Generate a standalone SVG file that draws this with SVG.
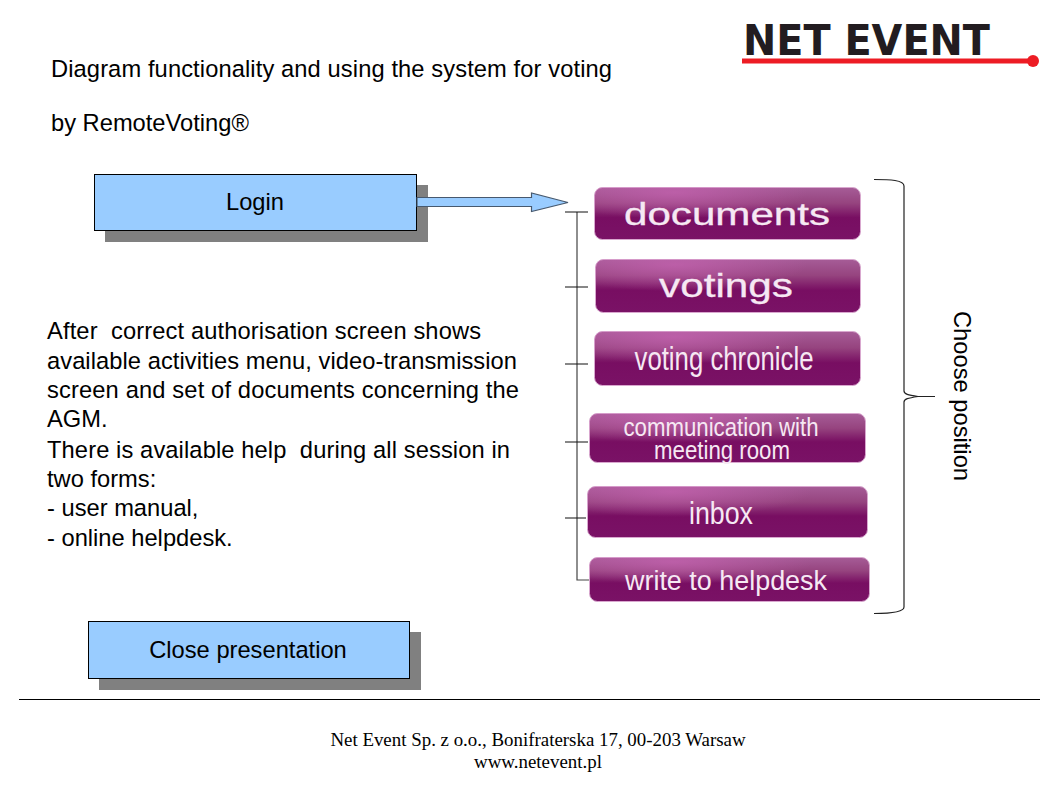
<svg xmlns="http://www.w3.org/2000/svg" width="1058" height="793" viewBox="0 0 1058 793">
<style>
.t{font-family:"Liberation Sans",Arial,sans-serif;font-size:23.7px;fill:#000;white-space:pre}
.c{text-anchor:middle}
.f{font-family:"Liberation Serif","Times New Roman",serif;font-size:18.9px;fill:#000;text-anchor:middle}
.box{fill:#99ccff;stroke:#000;stroke-width:1}
.sh{fill:#808080}
.btn{fill:url(#pg);stroke:#d9a8cf;stroke-width:1}
.gl{fill:url(#hl)}
.bt{font-family:"Liberation Sans",Arial,sans-serif;fill:#f6e8f3;text-anchor:middle}
.hv{stroke:#f6e8f3;stroke-width:0.3}
.ln{fill:none;stroke:#444;stroke-width:1.2}
.tk{fill:none;stroke:#111;stroke-width:1.1}
</style>
<defs>
<linearGradient id="pg" x1="0" y1="0" x2="0" y2="1">
<stop offset="0" stop-color="#a65c97"/>
<stop offset="0.3" stop-color="#96447f"/>
<stop offset="0.58" stop-color="#780e62"/>
<stop offset="1" stop-color="#7a1266"/>
</linearGradient>
<radialGradient id="hl" cx="0.3" cy="0.1" r="0.5">
<stop offset="0" stop-color="#c763b2" stop-opacity="0.7"/>
<stop offset="1" stop-color="#c763b2" stop-opacity="0"/>
</radialGradient>
</defs>
<rect width="1058" height="793" fill="#fff"/>
<g id="logo">
<text x="743" y="55" font-family="DejaVu Sans,sans-serif" font-size="42.500" font-weight="bold" fill="#221c20" textLength="247" lengthAdjust="spacingAndGlyphs">NET EVENT</text>
<rect x="742" y="58.500" width="291" height="5" fill="#ed1c24"/>
<circle cx="1033" cy="61" r="6" fill="#ed1c24"/>
</g>
<g id="title">
<text class="t" x="51" y="77" textLength="561">Diagram functionality and using the system for voting</text>
<text class="t" x="51" y="131">by RemoteVoting®</text>
</g>
<g id="login">
<rect class="sh" x="105" y="185" width="323" height="57"/>
<rect class="box" x="94.500" y="174.500" width="322" height="56"/>
<text class="t c" x="255" y="210">Login</text>
</g>
<g id="connectors">
<path d="M417 197.500H531.500V193L568 202.500L531.500 211.500V206.500H417Z" fill="#99ccff" stroke="#47596e" stroke-width="1.200"/>
<path class="ln" d="M577 212V580H589"/>
<path class="tk" d="M565 212H588M565 287H588M565 364H588M565 442H588M565 518H586"/>
<path d="M874 179.500C890 179.500 904 180 904 186V391C904 394 908 395 918 396.500H935M918 396.500C908 398 904 399 904 402V607C904 612 890 613.500 874 613.500" fill="none" stroke="#222" stroke-width="1.200"/>
</g>
<g id="description">
<text class="t" x="47" y="339" textLength="434">After  correct authorisation screen shows</text>
<text class="t" x="47" y="369" textLength="470">available activities menu, video-transmission</text>
<text class="t" x="47" y="398" textLength="472">screen and set of documents concerning the</text>
<text class="t" x="47" y="427">AGM.</text>
<text class="t" x="47" y="458" textLength="463">There is available help  during all session in</text>
<text class="t" x="47" y="487">two forms:</text>
<text class="t" x="47" y="516">- user manual,</text>
<text class="t" x="47" y="546">- online helpdesk.</text>
</g>
<g id="btn-documents">
<rect class="btn" x="594.500" y="187.500" width="266" height="52" rx="8"/><rect class="gl" x="594.500" y="187.500" width="266" height="52" rx="8"/>
<text class="bt hv" x="727" y="225" font-size="32" textLength="206" lengthAdjust="spacingAndGlyphs">documents</text>
</g>
<g id="btn-votings">
<rect class="btn" x="595.500" y="259.500" width="265" height="53" rx="8"/><rect class="gl" x="595.500" y="259.500" width="265" height="53" rx="8"/>
<text class="bt hv" x="726" y="297" font-size="33" textLength="134" lengthAdjust="spacingAndGlyphs">votings</text>
</g>
<g id="btn-chronicle">
<rect class="btn" x="594.500" y="331.500" width="266" height="54" rx="8"/><rect class="gl" x="594.500" y="331.500" width="266" height="54" rx="8"/>
<text class="bt" x="724" y="370" font-size="33" textLength="179" lengthAdjust="spacingAndGlyphs">voting chronicle</text>
</g>
<g id="btn-communication">
<rect class="btn" x="589.500" y="413.500" width="276" height="49" rx="8"/><rect class="gl" x="589.500" y="413.500" width="276" height="49" rx="8"/>
<text class="bt" x="721" y="436" font-size="26" textLength="195" lengthAdjust="spacingAndGlyphs">communication with</text>
<text class="bt" x="722" y="459" font-size="26" textLength="136" lengthAdjust="spacingAndGlyphs">meeting room</text>
</g>
<g id="btn-inbox">
<rect class="btn" x="587.500" y="486.500" width="280" height="51" rx="8"/><rect class="gl" x="587.500" y="486.500" width="280" height="51" rx="8"/>
<text class="bt" x="721" y="524" font-size="32" textLength="64" lengthAdjust="spacingAndGlyphs">inbox</text>
</g>
<g id="btn-helpdesk">
<rect class="btn" x="589.500" y="557.500" width="280" height="44" rx="8"/><rect class="gl" x="589.500" y="557.500" width="280" height="44" rx="8"/>
<text class="bt" x="726" y="590" font-size="27" textLength="202" lengthAdjust="spacingAndGlyphs">write to helpdesk</text>
</g>
<g id="choose-position">
<text class="t" transform="translate(954 311) rotate(90)" textLength="170">Choose position</text>
</g>
<g id="close">
<rect class="sh" x="99" y="632" width="322" height="58"/>
<rect class="box" x="88.500" y="621.500" width="321" height="57"/>
<text class="t c" x="248" y="658">Close presentation</text>
</g>
<g id="footer">
<line x1="19" y1="699.500" x2="1040" y2="699.500" stroke="#000" stroke-width="1"/>
<text class="f" x="538" y="746">Net Event Sp. z o.o., Bonifraterska 17, 00-203 Warsaw</text>
<text class="f" x="538" y="768">www.netevent.pl</text>
</g>
</svg>
